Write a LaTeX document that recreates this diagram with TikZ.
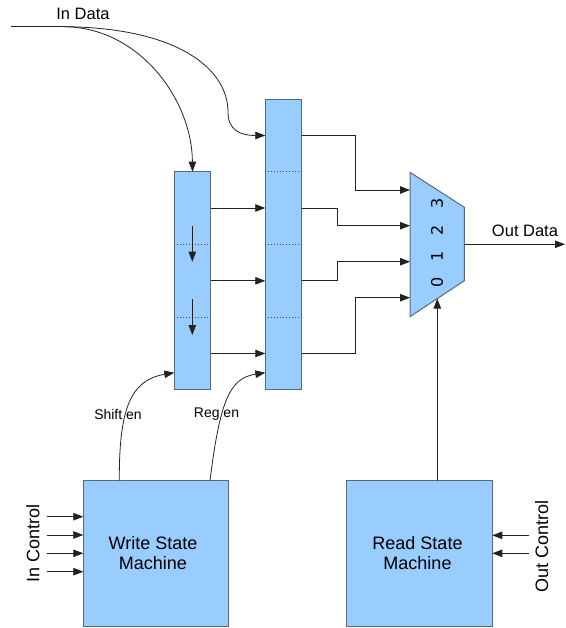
\documentclass[tikz,border=0pt]{standalone}
\usepackage{fontspec}
\setmainfont{Liberation Sans}
\newfontfamily\digitfont{DejaVu Sans}
\usetikzlibrary{arrows.meta,calc}
\definecolor{boxfill}{HTML}{99CCFF}
\definecolor{boxline}{HTML}{56697D}
\definecolor{wire}{HTML}{222222}
\tikzset{
  blk/.style={draw=boxline,fill=boxfill,line width=1pt,inner sep=0pt,outer sep=0pt},
  cell/.style={draw=boxline!70!black,dotted,line width=1pt},
  conn/.style={draw=wire,line width=0.8pt,-{Triangle[length=10pt,width=7.5pt]}},
  plain/.style={draw=wire,line width=0.8pt},
  lbl/.style={font=\fontsize{16.5}{18}\selectfont,inner sep=0pt},
  smalllbl/.style={font=\fontsize{14}{16}\selectfont,inner sep=0pt},
  biglbl/.style={font=\fontsize{18}{20}\selectfont,inner sep=0pt,align=center},
  digit/.style={font=\digitfont\fontsize{16}{16}\selectfont,inner sep=0pt,rotate=90}
}
\begin{document}
\begin{tikzpicture}[x=1pt,y=-1pt]
\useasboundingbox (0,0) rectangle (565,628);
% shift register
\node[blk,minimum width=36.4pt,minimum height=217.6pt] (sr) at (192.5,280.5) {};
\draw[cell] (174.3,244.3) -- (210.7,244.3);
\draw[cell] (174.3,317.3) -- (210.7,317.3);
% register
\node[blk,minimum width=36.4pt,minimum height=290pt] (rg) at (283.5,244.3) {};
\draw[cell] (265.3,171.7) -- (301.7,171.7);
\draw[cell] (265.3,244.3) -- (301.7,244.3);
\draw[cell] (265.3,317.3) -- (301.7,317.3);
% internal shift arrows
\coordinate (s1a) at (192.3,226);
\coordinate (s1b) at (192.3,261.7);
\coordinate (s2a) at (192.3,299);
\coordinate (s2b) at (192.3,335);
\draw[conn] (s1a) -- (s1b);
\draw[conn] (s2a) -- (s2b);
% mux
\coordinate (mtl) at (410,172.3);
\coordinate (mbl) at (410,316.7);
\coordinate (mtr) at (464.3,207.3);
\coordinate (mbr) at (464.3,280.7);
\draw[blk] (mtl) -- (mtr) -- (mbr) -- (mbl) -- cycle;
\coordinate (m3) at (410,190);
\coordinate (m2) at (410,225.7);
\coordinate (m1) at (410,261.7);
\coordinate (m0) at (410,297.7);
\coordinate (msel) at (437.3,298.6);
\coordinate (mout) at (464.3,244.3);
\node[digit] (d3) at (437,203) {3};
\node[digit] (d2) at (437,230) {2};
\node[digit] (d1) at (437,256.5) {1};
\node[digit] (d0) at (437,282.5) {0};
% state machines
\node[blk,minimum width=145.4pt,minimum height=145.3pt] (wsm) at (156,553.35) {};
\node[biglbl] (wsmt) at (153,553.5) {Write State\\Machine};
\node[blk,minimum width=145.6pt,minimum height=145.3pt] (rsm) at (419.5,553.35) {};
\node[biglbl] (rsmt) at (417.5,553.5) {Read State\\Machine};
% In data
\node[lbl] (indata) at (83,14) {In Data};
\coordinate (inA) at (11,26.7);
\coordinate (inB) at (65,26.7);
\draw[plain] (inA) -- (inB);
\draw[conn] (inB) .. controls (140,28) and (192,100) .. (sr.north);
\draw[conn] (inB) .. controls (180,28) and (228,70) .. (228,112) .. controls (228,130) and (240,135.5) .. (rg.west |- 0,135.5);
% shift -> register
\foreach \y in {208,280.8,353.5}{
  \draw[conn] (sr.east |- 0,\y) -- (rg.west |- 0,\y);
}
% register -> mux
\draw[conn] (rg.east |- 0,135.5) -| (355.7,190) -- (m3);
\draw[conn] (rg.east |- 0,208) -| (337.3,225.7) -- (m2);
\draw[conn] (rg.east |- 0,280.8) -| (337.3,261.7) -- (m1);
\draw[conn] (rg.east |- 0,353.5) -| (355.7,297.7) -- (m0);
% out data
\coordinate (outend) at (565,244.3);
\draw[conn] (mout) -- (outend);
\node[lbl] (outdata) at (525,231) {Out Data};
% select
\draw[conn] (rsm.north -| msel) -- (msel);
% enables
\draw[conn] (119.3,480.7) .. controls (119,410) and (130,380) .. (sr.west |- 0,372.7);
\draw[conn] (210,480.7) .. controls (220,400) and (230,378) .. (rg.west |- 0,372.7);
\node[smalllbl] (shen) at (118,414) {Shift en};
\node[smalllbl] (rgen) at (216.5,414) {Reg en};
% in control
\foreach \y in {516.7,535,553.3,571.7}{
  \draw[conn] (46.7,\y) -- (wsm.west |- 0,\y);
}
\node[biglbl,rotate=90] (inctl) at (33,543) {In Control};
% out control
\foreach \y in {535.3,553.3}{
  \draw[conn] (529.3,\y) -- (rsm.east |- 0,\y);
}
\node[biglbl,rotate=90] (outctl) at (541.7,546.7) {Out Control};
\end{tikzpicture}
\end{document}
